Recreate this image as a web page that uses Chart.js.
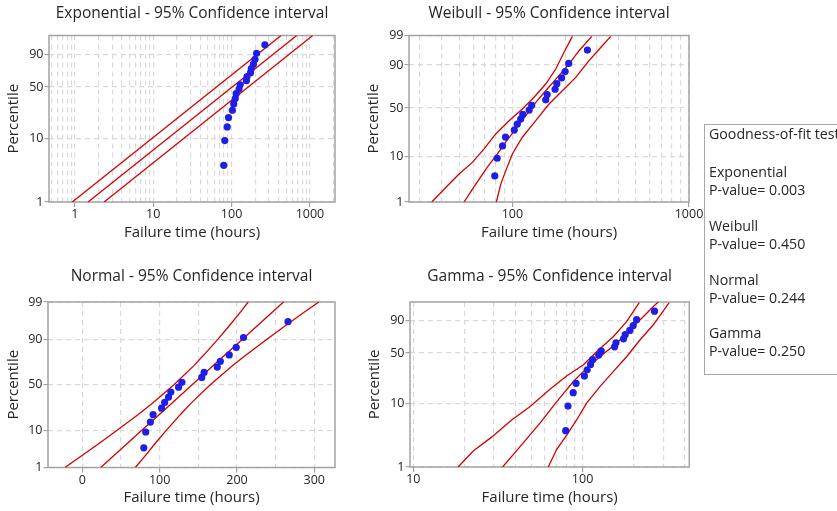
<!DOCTYPE html>
<html>
<head>
<meta charset="utf-8">
<title>Distribution ID plot</title>
<script src="https://cdn.jsdelivr.net/npm/chart.js@4.4.1/dist/chart.umd.min.js"></script>
<style>
  body { margin: 0; width: 837px; height: 511px; overflow: hidden; position: relative; background: #fff; font-family: "Open Sans", sans-serif; color: #262626; }
  canvas { position: absolute; }
  #gof { position: absolute; left: 704px; top: 124px; width: 170px; height: 251px; border: 1px solid #a8a8a8; box-sizing: border-box; }
  .gof-line { position: absolute; left: 709px; font-size: 14.2px; line-height: 18px; white-space: nowrap; }
</style>
</head>
<body>
<canvas id="exp-chart" width="350" height="250" style="left:0;top:0"></canvas>
<canvas id="wbl-chart" width="350" height="250" style="left:360px;top:0"></canvas>
<canvas id="norm-chart" width="350" height="251" style="left:0;top:260px"></canvas>
<canvas id="gam-chart" width="350" height="251" style="left:360px;top:260px"></canvas>
<div id="gof"></div>
<script>
// failure data (hours) and plotting positions (%)
const failureTimes = [79.5, 82, 88, 91.5, 102.5, 106.5, 111.5, 114.5, 124.5, 128.8, 154.5, 157.5, 174.5, 178.5, 190, 199, 208.5, 266];
const plotPercents = [3.8, 9.2, 14.7, 20.1, 25.5, 31.0, 36.4, 41.8, 47.3, 52.7, 58.2, 63.6, 69.0, 74.5, 79.9, 85.3, 90.8, 96.2];

// exponential fit and 95% band
const expPct = [1, 99];
const expTimeLow = [0.93, 428];
const expTimeFit = [1.48, 678];
const expTimeHigh = [2.37, 1084];

// weibull fit and 95% band
const wblLowTimes = [35.0, 42.0, 49.9, 59.4, 69.2, 80.5, 95.8, 113.9, 132.7, 154.5, 176.1, 196.2, 218.6];
const wblLowPct = [1, 2.1, 4.2, 7.5, 13.2, 22.4, 34.6, 48.8, 60.8, 74.2, 87.2, 95.5, 98.9];
const wblFitTimes = [53.3, 62.1, 72.2, 82.3, 91.7, 104.5, 119.1, 135.7, 154.5, 179.8, 209.4, 238.5, 281.5];
const wblFitPct = [1, 2.5, 5.9, 11.0, 16.8, 26.5, 40.3, 55.7, 67.5, 80.4, 90.5, 96.0, 98.9];
const wblHighTimes = [81.2, 86.0, 91.7, 100, 113.9, 135.7, 161.3, 191.9, 228.5, 271.8, 316.5, 360.5];
const wblHighPct = [1, 2.5, 4.9, 11.0, 20.0, 34.6, 54.0, 67.5, 80.4, 92.2, 96.9, 98.9];

// normal fit and 95% band
const normPct = [1, 2, 5, 10, 20, 30, 50, 70, 80, 90, 95, 98, 99];
const normTimeLow = [-22.5, -4.5, 22.0, 45.0, 71.9, 90.3, 118.5, 143.6, 157.4, 175.4, 189.6, 205.0, 214.5];
const normTimeFit = [23.8, 37.7, 58.4, 76.9, 99.3, 115.4, 142, 168.6, 184.8, 207.1, 225.6, 246.3, 260.2];
const normTimeHigh = [68.5, 79.1, 94.4, 108.6, 126.6, 140.4, 165.5, 193.7, 212.1, 238.8, 261.6, 287.7, 306.0];

// gamma fit and 95% band
const gamLowTimes = [18.4, 22.6, 29.0, 38.1, 48.8, 64.2, 80.4, 100.8, 121, 151.7, 182, 216.1];
const gamLowPct = [1, 1.8, 3.0, 5.6, 9.0, 16.5, 25.5, 35.8, 51.7, 71.9, 89.1, 98.9];
const gamFitTimes = [33.7, 42.6, 56.0, 70.2, 88.0, 100.8, 126.6, 158.8, 199.1, 261.2, 279.6];
const gamFitPct = [1, 2.1, 5.0, 10.7, 21.2, 29.3, 45.3, 63.0, 84.1, 97.9, 99];
const gamHighTimes = [62.7, 70.2, 80.4, 92.2, 105.6, 126.6, 151.7, 182, 218.1, 261.2, 324.8];
const gamHighPct = [1, 1.9, 3.2, 5.6, 10.2, 18.0, 29.3, 45.3, 67.5, 85.9, 98.9];

// axis ticks
const expGridTicks = [0.5, 0.6, 0.7, 0.8, 0.9, 1, 2, 3, 4, 5, 6, 7, 8, 9, 10, 20, 30, 40, 50, 60, 70, 80, 90, 100, 200, 300, 400, 500, 600, 700, 800, 900, 1000, 2000];
const expTickLabels = [1, 10, 100, 1000];
const wblGridTicks = [30, 40, 50, 60, 70, 80, 90, 100, 200, 300, 400, 500, 600, 700, 800, 900, 1000];
const wblTickLabels = [100, 1000];
const normGridTicks = [0, 50, 100, 150, 200, 250, 300];
const normTickLabels = [0, 100, 200, 300];
const gamGridTicks = [10, 20, 30, 40, 50, 60, 70, 80, 90, 100, 200, 300, 400];
const gamTickLabels = [10, 100];
const pctTicksFull = [1, 10, 50, 90, 99];
const pctTicksShort = [1, 10, 50, 90];

// goodness-of-fit box
const gofNames = ["Exponential", "Weibull", "Normal", "Gamma"];
const gofPValues = ["0.003", "0.450", "0.244", "0.250"];

const TEXT = "#262626";
const AXIS = "#a3a3a3";
const GRID = "#d9d9d9";
const RED = "#d20000";
const BLUE = "#1e1ee6";

Chart.defaults.font.family = '"Open Sans", sans-serif';
Chart.defaults.color = TEXT;

// inverse standard normal cdf (Acklam)
function probit(p) {
    const a = [-39.69683028665376, 220.9460984245205, -275.9285104469687, 138.357751867269, -30.66479806614716, 2.506628277459239];
    const b = [-54.47609879822406, 161.5858368580409, -155.6989798598866, 66.80131188771972, -13.28068155288572];
    const c = [-0.007784894002430293, -0.3223964580411365, -2.400758277161838, -2.549732539343734, 4.374664141464968, 2.938163982698783];
    const d = [0.007784695709041462, 0.3224671290700398, 2.445134137142996, 3.754408661907416];
    const tail = (q) =>
        (((((c[0] * q + c[1]) * q + c[2]) * q + c[3]) * q + c[4]) * q + c[5]) /
        ((((d[0] * q + d[1]) * q + d[2]) * q + d[3]) * q + 1);
    if (p < 0.02425) return tail(Math.sqrt(-2 * Math.log(p)));
    if (p > 1 - 0.02425) return -tail(Math.sqrt(-2 * Math.log(1 - p)));
    const q = p - 0.5;
    const r = q * q;
    return ((((((a[0] * r + a[1]) * r + a[2]) * r + a[3]) * r + a[4]) * r + a[5]) * q) /
        (((((b[0] * r + b[1]) * r + b[2]) * r + b[3]) * r + b[4]) * r + 1);
}

const probTransforms = {
    normal: (pct) => probit(pct / 100),
    sev: (pct) => Math.log(-Math.log(1 - pct / 100)),
};

// percentile axis on a probability paper scale
class ProbabilityScale extends Chart.Scale {
    determineDataLimits() {
        this.min = this.options.min;
        this.max = this.options.max;
    }
    buildTicks() {
        return this.options.tickValues.map((value) => ({ value }));
    }
    getLabelForValue(value) {
        return String(value);
    }
    getPixelForValue(value) {
        const f = probTransforms[this.options.transform];
        const stops = this.options.stops || [this.min, this.max];
        const fracs = this.options.stopFractions || [0, 1];
        let i = 0;
        while (i < stops.length - 2 && value > stops[i + 1]) i++;
        const a = f(stops[i]);
        const b = f(stops[i + 1]);
        const dec = fracs[i] + ((f(value) - a) / (b - a)) * (fracs[i + 1] - fracs[i]);
        return this.getPixelForDecimal(dec);
    }
    getValueForPixel() {
        return null;
    }
}
ProbabilityScale.id = "probability";
ProbabilityScale.defaults = {};
Chart.register(ProbabilityScale);

const frame = {
    id: "frame",
    beforeDatasetsDraw(chart) {
        const { ctx, chartArea: a } = chart;
        ctx.save();
        ctx.strokeStyle = AXIS;
        ctx.lineWidth = 1.5;
        ctx.strokeRect(a.left, a.top, a.right - a.left, a.bottom - a.top);
        ctx.restore();
    },
};
Chart.register(frame);

function panelTitle(text, y) {
    return {
        id: "panelTitle",
        afterDraw(chart) {
            const { ctx, chartArea } = chart;
            ctx.save();
            ctx.font = '15.5px "Open Sans"';
            ctx.fillStyle = TEXT;
            ctx.textAlign = "center";
            ctx.textBaseline = "middle";
            ctx.fillText(text, (chartArea.left + chartArea.right) / 2, y);
            ctx.restore();
        },
    };
}

function pairs(xs, ys) {
    return xs.map((x, i) => ({ x, y: ys[i] }));
}

function curve(times, pcts) {
    return {
        data: pairs(times, pcts),
        showLine: true,
        pointRadius: 0,
        borderColor: RED,
        borderWidth: 1.3,
        tension: 0,
    };
}

function buildPanel(p) {
    return new Chart(document.getElementById(p.canvas), {
        type: "scatter",
        data: {
            datasets: [
                {
                    data: pairs(failureTimes, plotPercents),
                    pointRadius: 3.6,
                    backgroundColor: BLUE,
                    borderWidth: 0,
                },
                ...p.curves.map((c) => curve(c[0], c[1])),
            ],
        },
        options: {
            responsive: false,
            animation: false,
            events: [],
            layout: { padding: { top: p.top, right: p.right, left: 0, bottom: 0 } },
            plugins: { legend: { display: false }, tooltip: { enabled: false } },
            scales: {
                x: {
                    type: p.xType,
                    min: p.xMin,
                    max: p.xMax,
                    afterBuildTicks: (s) => {
                        s.ticks = p.xGrid.map((value) => ({ value }));
                    },
                    afterFit: (s) => {
                        s.height = p.xHeight;
                    },
                    ticks: {
                        autoSkip: false,
                        maxRotation: 0,
                        minRotation: 0,
                        padding: 0,
                        color: TEXT,
                        font: { size: 12.5 },
                        callback: (v) => (p.xLabels.includes(v) ? String(v) : ""),
                    },
                    grid: {
                        color: GRID,
                        lineWidth: 1.2,
                        tickLength: 5,
                        tickColor: (ctx) => (ctx.tick && p.xLabels.includes(ctx.tick.value) ? AXIS : "rgba(0,0,0,0)"),
                    },
                    border: { display: false, dash: [5, 4] },
                    title: {
                        display: true,
                        text: "Failure time (hours)",
                        color: TEXT,
                        font: { size: 15 },
                        padding: { top: 0, bottom: p.xTitlePad },
                    },
                },
                y: {
                    type: "probability",
                    min: 1,
                    max: 99,
                    transform: p.yTransform,
                    stops: p.yStops,
                    stopFractions: p.yStopFractions,
                    tickValues: p.yTicks,
                    afterFit: (s) => {
                        s.width = p.yWidth;
                    },
                    ticks: { padding: 1, color: TEXT, font: { size: 12.5 } },
                    grid: { color: GRID, lineWidth: 1.2, tickLength: 4.5, tickColor: AXIS },
                    border: { display: false, dash: [5, 4] },
                    title: {
                        display: true,
                        text: "Percentile",
                        color: TEXT,
                        font: { size: 15 },
                        padding: { top: p.yTitlePad, bottom: 0 },
                    },
                },
            },
        },
        plugins: [panelTitle(p.title, p.titleY)],
    });
}

buildPanel({
    canvas: "exp-chart",
    title: "Exponential - 95% Confidence interval",
    titleY: 13.3,
    top: 35.5, right: 15, xHeight: 48, yWidth: 49, xTitlePad: 8, yTitlePad: 4.3,
    xType: "logarithmic", xMin: 0.47, xMax: 2085,
    xGrid: expGridTicks, xLabels: expTickLabels,
    yTransform: "sev", yTicks: pctTicksShort,
    curves: [[expTimeLow, expPct], [expTimeFit, expPct], [expTimeHigh, expPct]],
});

buildPanel({
    canvas: "wbl-chart",
    title: "Weibull - 95% Confidence interval",
    titleY: 13.3,
    top: 35.5, right: 21, xHeight: 48, yWidth: 49, xTitlePad: 8, yTitlePad: 4.3,
    xType: "logarithmic", xMin: 26, xMax: 1000,
    xGrid: wblGridTicks, xLabels: wblTickLabels,
    yTransform: "sev", yTicks: pctTicksFull,
    yStops: pctTicksFull, yStopFractions: [0, 0.273, 0.564, 0.823, 1],
    curves: [[wblLowTimes, wblLowPct], [wblFitTimes, wblFitPct], [wblHighTimes, wblHighPct]],
});

buildPanel({
    canvas: "norm-chart",
    title: "Normal - 95% Confidence interval",
    titleY: 16.7,
    top: 42, right: 15, xHeight: 43.5, yWidth: 48, xTitlePad: 4.7, yTitlePad: 4.3,
    xType: "linear", xMin: -44.4, xMax: 326.8,
    xGrid: normGridTicks, xLabels: normTickLabels,
    yTransform: "normal", yTicks: pctTicksFull,
    curves: [[normTimeLow, normPct], [normTimeFit, normPct], [normTimeHigh, normPct]],
});

buildPanel({
    canvas: "gam-chart",
    title: "Gamma - 95% Confidence interval",
    titleY: 16.7,
    top: 42, right: 20.7, xHeight: 44, yWidth: 50, xTitlePad: 4.7, yTitlePad: 6,
    xType: "logarithmic", xMin: 9.56, xMax: 427,
    xGrid: gamGridTicks, xLabels: gamTickLabels,
    yTransform: "sev", yTicks: pctTicksShort,
    curves: [[gamLowTimes, gamLowPct], [gamFitTimes, gamFitPct], [gamHighTimes, gamHighPct]],
});

// goodness-of-fit text box
function addGofLine(text, top) {
    const el = document.createElement("div");
    el.className = "gof-line";
    el.style.top = top + "px";
    el.textContent = text;
    document.body.appendChild(el);
}

addGofLine("Goodness-of-fit test", 125);
gofNames.forEach((name, i) => {
    addGofLine(name, 163 + i * 53.8);
    addGofLine("P-value= " + gofPValues[i], 181 + i * 53.8);
});
</script>
</body>
</html>
